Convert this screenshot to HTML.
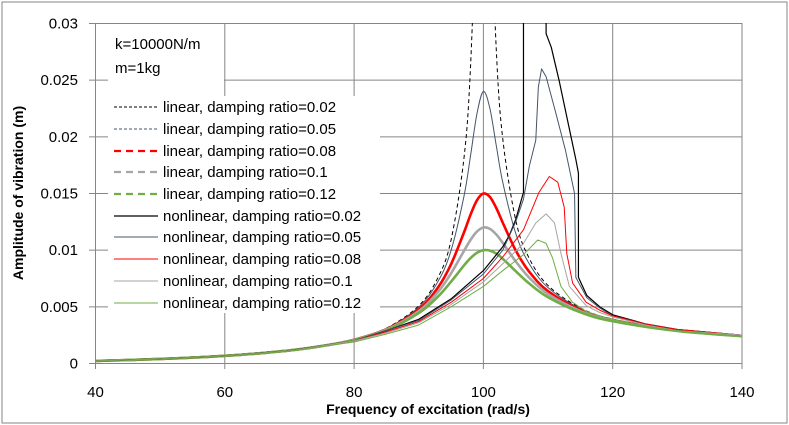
<!DOCTYPE html>
<html><head><meta charset="utf-8"><style>
body{margin:0;background:#fff}
svg{display:block;font-family:"Liberation Sans",sans-serif}
</style></head><body>
<svg id="chart" width="789" height="425" viewBox="0 0 789 425">
<rect x="2" y="2" width="785" height="421" fill="#fff" stroke="#868686" stroke-width="1"/>
<defs><clipPath id="pc"><rect x="95" y="23" width="648" height="341"/></clipPath></defs>
<g id="grid"></g>
<g id="ticks" font-size="15" fill="#000"></g>
<g id="series" clip-path="url(#pc)"></g>
<text x="428" y="414" text-anchor="middle" font-size="14" font-weight="bold">Frequency of excitation (rad/s)</text>
<text transform="translate(23,193) rotate(-90)" text-anchor="middle" font-size="14" font-weight="bold">Amplitude of vibration (m)</text>
<rect x="108" y="28" width="116" height="62" fill="#fff"/>
<text x="115" y="49" font-size="15">k=10000N/m</text>
<text x="115" y="73" font-size="15">m=1kg</text>
<rect x="108" y="96" width="272" height="217" fill="#fff"/>
<g id="legend" font-size="15"></g>
</svg>
<script>
const NS="http://www.w3.org/2000/svg";
const xTicks=[40,60,80,100,120,140];
const yTicks=[0,0.005,0.01,0.015,0.02,0.025,0.03];
const yTickLabels=["0","0.005","0.01","0.015","0.02","0.025","0.03"];
const linFreq=[40,45,50,55,60,65,70,75,80,85,90,93,95,97,98,99,100,101,102,103,105,107,110,115,120,130,140];
const lin002=[.000229,.000305,.0004,.00052,.000675,.00088,.00115,.00154,.00213,.00312,.00509,.00761,.0109,.01815,.0261,.0419,.06,.043,.0276,.0198,.01265,.00938,.00688,.00491,.00392,.00294,.00245];
const lin005=[.000229,.000305,.0004,.00052,.000675,.00088,.00115,.00154,.00212,.00309,.00498,.00726,.00998,.01477,.0183,.02204,.024,.02252,.0192,.01597,.01148,.00889,.00669,.00484,.00389,.00293,.00244];
const lin008=[.000229,.000305,.0004,.00052,.000675,.00088,.00115,.00154,.0021,.00303,.00478,.00673,.00876,.01157,.01312,.0144,.015,.0147,.01371,.01242,.00998,.00816,.00638,.00473,.00384,.00291,.00243];
const lin010=[.000229,.000305,.0004,.00052,.000675,.00088,.00115,.00154,.00208,.00299,.00462,.00633,.00796,.00994,.0109,.01164,.012,.01188,.01138,.01064,.00901,.00763,.00612,.00463,.00379,.00289,.00242];
const lin012=[.000229,.000305,.0004,.00052,.000675,.00088,.00115,.00154,.00206,.00293,.00445,.00592,.00722,.00865,.00929,.00977,.01,.00996,.00969,.00924,.00815,.0071,.00585,.00452,.00373,.00287,.00241];
const nl002Freq=[40,50,60,70,80,85,90,95,100,103,104,105,106.2,106.2,109.7,109.7,110.5,111.7,113,114.3,114.7,114.7,116,118,120,125,130,140];
const nl002Amp=[.000229,.0004,.000675,.00113,.002,.0029,.0039,.0057,.0082,.0103,.0113,.0127,.0151,.035,.035,.0291,.0279,.025,.0215,.018,.0168,.0076,.006,.005,.0043,.0035,.003,.0025];
const nl005Freq=[40,50,60,70,80,85,90,95,100,103,105,106.2,107.1,108.1,108.5,109,109.7,111.2,112.7,114.1,114.3,116,118,120,125,130,140];
const nl005Amp=[.000229,.0004,.000675,.00113,.002,.0029,.0038,.0056,.0079,.01,.0125,.0145,.0174,.0197,.0244,.026,.0253,.0221,.0188,.015,.0076,.0058,.0049,.0042,.0035,.003,.0025];
const nl008Freq=[40,50,60,70,80,85,90,95,100,103,106.2,108.6,110.2,111.5,112.5,112.9,113.8,115.9,118,120,125,130,140];
const nl008Amp=[.000229,.0004,.000675,.00112,.002,.0028,.0037,.0054,.0075,.0094,.0118,.0151,.0165,.016,.0138,.0097,.0071,.0054,.0047,.0042,.0035,.003,.0025];
const nl010Freq=[40,50,60,70,80,85,90,95,100,103,106.2,108.1,109.7,111,112,113.3,115.9,118,120,125,130,140];
const nl010Amp=[.000229,.0004,.000675,.00112,.002,.0027,.0036,.0052,.0072,.0088,.0106,.0124,.0132,.0124,.0097,.0068,.0051,.0045,.0041,.0034,.0029,.0025];
const nl012Freq=[40,50,60,70,80,85,90,95,100,103,106.2,108.4,109.7,110.7,112,113.8,115.9,118,120,125,130,140];
const nl012Amp=[.000229,.0004,.000675,.00111,.0019,.0026,.0034,.005,.0068,.0082,.0096,.0109,.0106,.0093,.0068,.0054,.0046,.0042,.0039,.0033,.0029,.0024];
const legendLabels=["linear, damping ratio=0.02","linear, damping ratio=0.05","linear, damping ratio=0.08","linear, damping ratio=0.1","linear, damping ratio=0.12","nonlinear, damping ratio=0.02","nonlinear, damping ratio=0.05","nonlinear, damping ratio=0.08","nonlinear, damping ratio=0.1","nonlinear, damping ratio=0.12"];

function X(w){return 95.5+(w-40)*6.465;}
function Y(a){return 363.5-a*11333;}
function mk(tag,attrs,parent){const e=document.createElementNS(NS,tag);for(const k in attrs)e.setAttribute(k,attrs[k]);parent.appendChild(e);return e;}
function smoothPath(P){
  let d='M'+P[0][0].toFixed(2)+','+P[0][1].toFixed(2);
  for(let i=0;i<P.length-1;i++){
    const p0=P[Math.max(0,i-1)],p1=P[i],p2=P[i+1],p3=P[Math.min(P.length-1,i+2)];
    const c1x=p1[0]+(p2[0]-p0[0])/6,c1y=p1[1]+(p2[1]-p0[1])/6;
    const c2x=p2[0]-(p3[0]-p1[0])/6,c2y=p2[1]-(p3[1]-p1[1])/6;
    d+=' C'+c1x.toFixed(2)+','+c1y.toFixed(2)+' '+c2x.toFixed(2)+','+c2y.toFixed(2)+' '+p2[0].toFixed(2)+','+p2[1].toFixed(2);
  }
  return d;
}

const grid=document.getElementById('grid');
xTicks.forEach(function(t){
  const l=mk('line',{x1:X(t),x2:X(t),y1:23.5,y2:369,stroke:'#868686','stroke-width':1},grid);
  
  
});
yTicks.forEach(function(t){
  const l=mk('line',{x1:89,x2:742.5,y1:Y(t),y2:Y(t),stroke:'#868686','stroke-width':1},grid);
  
  
});
const ticks=document.getElementById('ticks');
xTicks.forEach(function(t){
  const e=mk('text',{x:X(t),y:397,'text-anchor':'middle'},ticks);e.textContent=t;
  
  
});
yTicks.forEach(function(t,i){
  const e=mk('text',{x:78,y:Y(t)+5,'text-anchor':'end'},ticks);e.textContent=yTickLabels[i];
  
  
});

const series=[
 {f:linFreq,a:lin002,c:'#000',w:1,d:'4,3',n:'linear-0.02'},
 {f:linFreq,a:lin005,c:'#44546a',w:1,d:'',n:'linear-0.05'},
 {f:linFreq,a:lin008,c:'#ff0000',w:2.6,d:'',n:'linear-0.08'},
 {f:linFreq,a:lin010,c:'#a6a6a6',w:2.6,d:'',n:'linear-0.1'},
 {f:linFreq,a:lin012,c:'#70ad47',w:2.6,d:'',n:'linear-0.12'},
 {f:nl002Freq,a:nl002Amp,c:'#000',w:1.2,d:'',n:'nonlinear-0.02'},
 {f:nl005Freq,a:nl005Amp,c:'#44546a',w:1,d:'',n:'nonlinear-0.05'},
 {f:nl008Freq,a:nl008Amp,c:'#ff0000',w:1,d:'',n:'nonlinear-0.08'},
 {f:nl010Freq,a:nl010Amp,c:'#a6a6a6',w:1,d:'',n:'nonlinear-0.1'},
 {f:nl012Freq,a:nl012Amp,c:'#70ad47',w:1,d:'',n:'nonlinear-0.12'}
];
const sg=document.getElementById('series');
series.forEach(function(s,i){
  let p;
  if(i<5){
    const P=s.f.map(function(w,j){return [X(w),Y(s.a[j])];});
    p=mk('path',{d:smoothPath(P),fill:'none',stroke:s.c,'stroke-width':s.w},sg);
  }else{
    const pts=s.f.map(function(w,j){return X(w).toFixed(2)+','+Y(s.a[j]).toFixed(2);}).join(' ');
    p=mk('polyline',{points:pts,fill:'none',stroke:s.c,'stroke-width':s.w,'stroke-linejoin':'round'},sg);
  }
  if(s.d)p.setAttribute('stroke-dasharray',s.d);
  
  
});
const lg=document.getElementById('legend');
const rowY=[107,129,151,172,194,216,237,259,281,303];
series.forEach(function(s,i){
  const y=rowY[i];
  const g=mk('g',{},lg);
  
  
  const l=mk('line',{x1:114,x2:158,y1:y,y2:y,stroke:s.c,'stroke-width':i<5?(s.w>2?2.2:1):(s.w)},g);
  if(i<5)l.setAttribute('stroke-dasharray',s.w>2?'7,5':'3,2');
  const t=mk('text',{x:163,y:y+5},g);t.textContent=legendLabels[i];
});
</script>
</body></html>
